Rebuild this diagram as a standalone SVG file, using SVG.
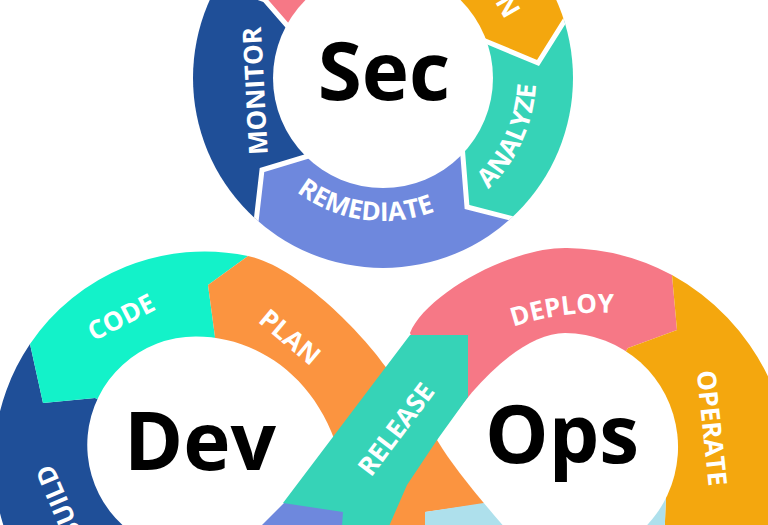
<svg xmlns="http://www.w3.org/2000/svg" width="768" height="525" viewBox="0 0 768 525">
<defs>
<style>
.lbl{font-family:"Open Sans","DejaVu Sans",sans-serif;font-weight:700;font-size:26px;fill:#fff;text-anchor:middle}
.big{font-family:"Open Sans","DejaVu Sans",sans-serif;font-weight:700;font-size:80px;fill:#000;text-anchor:middle}
.gap{fill:none;stroke:#fff;stroke-width:5;stroke-linejoin:miter}
.hole{fill:#fff}
</style>
<clipPath id="secClip"><circle cx="383" cy="78" r="190"/></clipPath>
<path id="pRemediate" d="M 250.4,131.6 A 143 143 0 0 0 495.7,166"/>
<path id="pAnalyze" d="M 397.7,230.3 A 153 153 0 0 0 507.5,-10.8"/>
<path id="pDeploy" d="M 449.3,357.7 A 280 280 0 0 1 683.7,324.7"/>
</defs>
<rect width="768" height="525" fill="#fff"/>

<g id="sec-loop">
  <g clip-path="url(#secClip)">
    <g id="threat"><path fill="#F67886" d="M383,78 L290,28.75 L265,0 L218,-17 L100,-100 L250,-250 L365.6,-121.2 L388.2,-71.9 L373.4,-31.6 Z"/></g>
    <g id="scan"><path fill="#F4A70E" d="M383,78 L373.4,-31.6 L388.2,-71.9 L365.6,-121.2 L500,-250 L750,-100 L571.2,10.1 L538,63 L478,38 Z"/></g>
    <g id="analyze"><path fill="#36D3B7" d="M383,78 L478,38 L538,63 L571.2,10.1 L750,-50 L750,300 L522.5,221.2 L467,207 L462,144.5 Z"/></g>
    <g id="remediate"><path fill="#6E88DD" d="M383,78 L462,144.5 L467,207 L522.5,221.2 L450,450 L250,450 L254.9,231.5 L262,170 L315.75,153.75 Z"/></g>
    <g id="monitor"><path fill="#1F4F98" d="M383,78 L315.75,153.75 L262,170 L254.9,231.5 L-50,300 L-50,-50 L218,-17 L265,0 L290,28.75 Z"/></g>
    <polyline class="gap" points="290,28.75 265,0 218,-17"/>
    <polyline class="gap" points="373.4,-31.6 388.2,-71.9 365.6,-121.2"/>
    <polyline class="gap" points="478,38 538,63 571.2,10.1"/>
    <polyline class="gap" points="462,144.5 467,207 522.5,221.2"/>
    <polyline class="gap" points="315.75,153.75 262,170 254.9,231.5"/>
  </g>
  <circle class="hole" cx="383" cy="78" r="110"/>
  <text class="lbl" transform="translate(508,6) rotate(60)" y="9.3">N</text>
  <text class="lbl"><textPath href="#pAnalyze" startOffset="50%">ANALYZE</textPath></text>
  <text class="lbl"><textPath href="#pRemediate" startOffset="50%">REMEDIATE</textPath></text>
  <text class="lbl" transform="translate(255,91) rotate(-93)" y="9.3">MONITOR</text>
  <text class="big" x="384" y="100">Sec</text>
</g>

<g id="build">
  <path fill="#1F4F98" d="M196,445 L95,398 L43,403 L30,344 A211 211 0 0 0 168,670 Z"/>
  <text class="lbl" transform="translate(59,503) rotate(-113)" y="9.3">BUILD</text>
</g>
<g id="code">
  <path fill="#13F2C9" d="M196,445 L215,337 L208,285 L248,256 A211 211 0 0 0 30,344 L43,403 L95,398 Z"/>
  <text class="lbl" transform="translate(121,317) rotate(-27)" y="9.3">CODE</text>
</g>
<g id="test">
  <path fill="#6E88DD" d="M196,445 L168,670 L420,640 L350,495 Z"/>
</g>
<g id="plan">
  <path fill="#FB9440" d="M196,445 L215,337 L208,285 L248,256 C297,266 362,333 385,366 L440,442 L490,503 L425,512 L425,545 L350,545 L338,450 Z"/>
  <text class="lbl" transform="translate(290,337) rotate(40)" y="9.3">PLAN</text>
</g>
<g id="deploy">
  <path fill="#F67886" d="M410,333 C425,295 510,247 567,248 A228 228 0 0 1 672,275 L677,330 L628,348 L565,447 L455,425 L412,338 Z"/>
  <text class="lbl"><textPath href="#pDeploy" startOffset="50%">DEPLOY</textPath></text>
</g>
<g id="operate">
  <path fill="#F4A70E" d="M628,348 L677,330 L672,275 A228 228 0 0 1 601.6,699.5 L662,600 L666,495 L565,447 Z"/>
  <text class="lbl" transform="translate(712,428) rotate(84)" y="9.3">OPERATE</text>
</g>
<g id="monitor-ops">
  <path fill="#AEE0EC" d="M425,512 L490,502 L600,470 L666,495 L662,600 L425,600 Z"/>
</g>

<g id="dev-hole">
  <path class="hole" d="M338,450 C315,375 255,336.5 196,336.5 A108.5 108.5 0 0 0 177.2,551.9 L235,550 L262,525 L285,502 L310,490 Z"/>
  <text class="big" x="200" y="470">Dev</text>
</g>
<g id="ops-hole">
  <path class="hole" d="M437,440 C475,380 525,333 565,333 A114 114 0 0 1 590,558 L520,545 C485,505 455,470 437,440 Z"/>
  <text class="big" x="562" y="463">Ops</text>
</g>

<g id="release">
  <path fill="#36D3B7" d="M410,335 L468,335 L468,397 L437,440 L407,485 L383,540 L341,540 L343,512 L283,503 Z"/>
  <text class="lbl" transform="translate(396,429) rotate(-53)" y="9.3">RELEASE</text>
</g>
<g id="connectors"></g>
</svg>
